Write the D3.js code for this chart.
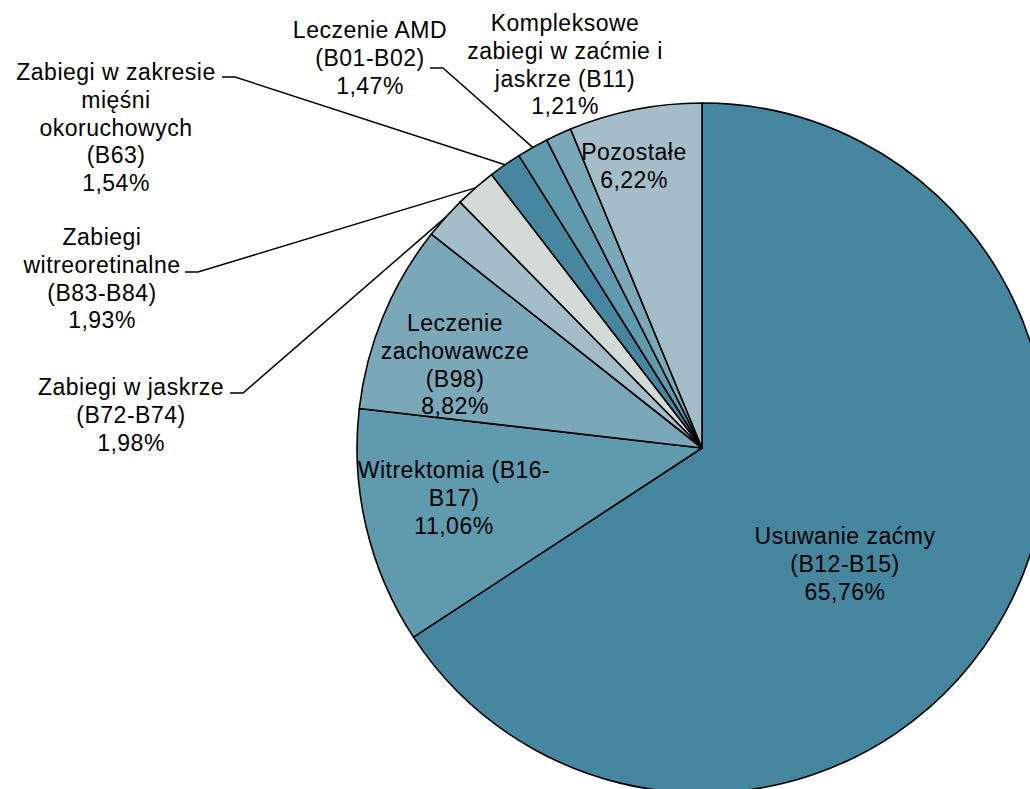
<!DOCTYPE html>
<html>
<head>
<meta charset="utf-8">
<script src="https://cdn.jsdelivr.net/npm/d3@7"></script>
<style>
  body { margin: 0; background: #fff; }
  text { font-family: "Liberation Sans", Arial, sans-serif; font-size: 23px; letter-spacing: 0.5px; fill: #000; }
</style>
</head>
<body>
<div id="chart"></div>
<script>
// categories (label lines) and shares in %
var categories = [
  ["Usuwanie zaćmy", "(B12-B15)"],
  ["Witrektomia (B16-", "B17)"],
  ["Leczenie", "zachowawcze", "(B98)"],
  ["Zabiegi w jaskrze", "(B72-B74)"],
  ["Zabiegi", "witreoretinalne", "(B83-B84)"],
  ["Zabiegi w zakresie", "mięśni", "okoruchowych", "(B63)"],
  ["Leczenie AMD", "(B01-B02)"],
  ["Kompleksowe", "zabiegi w zaćmie i", "jaskrze (B11)"],
  ["Pozostałe"]
];
var values = [65.76, 11.06, 8.82, 1.98, 1.93, 1.54, 1.47, 1.21, 6.22];
var palette = ["#46879f", "#5f9aae", "#7aa8b8", "#a3bec8", "#d3dbd8"];

// where each label block sits (centre x, first line centre y), and leader dash start if any
var labelPos = [
  {x: 845, y: 536},
  {x: 454, y: 470},
  {x: 455, y: 323},
  {x: 131, y: 387, dash: [230, 393]},
  {x: 102, y: 237, dash: [185, 272]},
  {x: 116, y: 72,  dash: [222, 77]},
  {x: 370, y: 30,  dash: [430, 68]},
  {x: 565, y: 23},
  {x: 634, y: 152}
];

var width = 1030, height = 789;
var cx = 702, cy = 448, radius = 345;
var lineH = 27.7;

var svg = d3.select("#chart")
  .append("svg")
  .attr("width", width)
  .attr("height", height);

var g = svg.append("g")
  .attr("transform", "translate(" + cx + "," + cy + ")");

var pie = d3.pie().sort(null).value(function (d) { return d; });
var arcs = pie(values);
var arc = d3.arc().innerRadius(0).outerRadius(radius);

var color = function (i) { return palette[i % palette.length]; };

g.selectAll("path")
  .data(arcs)
  .enter()
  .append("path")
  .attr("d", arc)
  .attr("fill", function (d, i) { return color(i); })
  .attr("stroke", "#000")
  .attr("stroke-width", 1.6)
  .attr("stroke-linejoin", "round");

var fmt = function (v) { return d3.format(".2f")(v).replace(".", ",") + "%"; };

// leader lines: short horizontal dash, then to the middle of the slice edge
arcs.forEach(function (d, i) {
  var p = labelPos[i];
  if (!p.dash) return;
  var a = (d.startAngle + d.endAngle) / 2;
  var ex = cx + radius * Math.sin(a), ey = cy - radius * Math.cos(a);
  svg.append("polyline")
    .attr("points", [[p.dash[0], p.dash[1]], [p.dash[0] + 13, p.dash[1]], [ex, ey]].join(" "))
    .attr("fill", "none")
    .attr("stroke", "#000")
    .attr("stroke-width", 1.5);
});

// labels
arcs.forEach(function (d, i) {
  var p = labelPos[i];
  var lines = categories[i].concat([fmt(values[i])]);
  var t = svg.append("text")
    .attr("text-anchor", "middle");
  lines.forEach(function (s, k) {
    t.append("tspan")
      .attr("x", p.x)
      .attr("y", p.y + k * lineH)
      .attr("dy", "0.36em")
      .text(s);
  });
});
</script>
</body>
</html>
